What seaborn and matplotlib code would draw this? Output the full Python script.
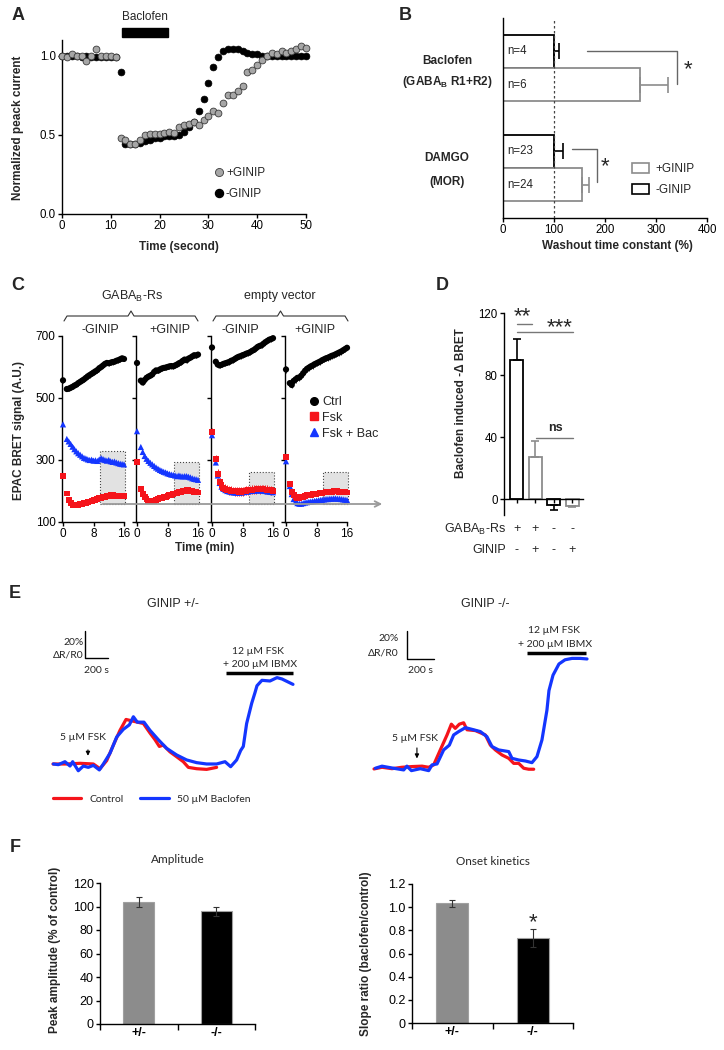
import matplotlib
matplotlib.use("Agg")
import matplotlib.pyplot as plt
import pandas as pd
import seaborn as sns
from matplotlib.lines import Line2D
from matplotlib.patches import Patch, Rectangle

W, H = 724, 1050

# ---------------- A: normalized peak current ----------------
time_a = list(range(51))
current_plus = [1.0, 0.99, 1.01, 1.0, 1.0, 0.97, 1.0, 1.04, 1.0, 1.0, 1.0, 0.99,
                0.48, 0.47, 0.44, 0.44, 0.47, 0.50, 0.505, 0.505, 0.505, 0.51, 0.52, 0.515,
                0.55, 0.565, 0.57, 0.58, 0.565, 0.595, 0.62, 0.65, 0.64, 0.70, 0.75, 0.755,
                0.78, 0.81, 0.90, 0.91, 0.94, 0.975, 1.0, 1.02, 1.01, 1.03, 1.02, 1.03,
                1.04, 1.06, 1.05]
current_minus = [1.0, 1.0, 1.0, 1.0, 0.99, 1.0, 0.99, 0.99, 0.99, 0.99, 0.99, 0.99,
                 0.90, 0.44, 0.44, 0.44, 0.45, 0.46, 0.47, 0.48, 0.48, 0.49, 0.49, 0.49,
                 0.50, 0.52, 0.55, 0.58, 0.65, 0.73, 0.83, 0.93, 0.99, 1.03, 1.04, 1.04,
                 1.04, 1.03, 1.02, 1.01, 1.01, 1.0, 1.0, 1.0, 1.0, 1.0, 1.0, 1.0,
                 1.0, 1.0, 1.0]
baclofen_window = [12.3, 21.7]

# ---------------- B: washout time constant ----------------
b_pos = [1, 2, 4, 5]
b_mean = [100, 268, 100, 155]
b_sem = [10, 56, 18, 13]
b_n = ["n=4", "n=6", "n=23", "n=24"]
b_colors = ["black", "#8c8c8c", "black", "#8c8c8c"]

# ---------------- C: EPAC BRET signal ----------------
c_time = [0, 1, 1.5, 2, 2.5, 3, 3.5, 4, 4.5, 5, 5.5, 6, 6.5, 7, 7.5, 8, 8.5, 9,
          9.5, 10, 10.5, 11, 11.5, 12, 12.5, 13, 13.5, 14, 14.5, 15, 15.5, 16]
c_titles = ["-GINIP", "+GINIP", "-GINIP", "+GINIP"]

ctrl_gaba_minus = [557, 529, 530, 533, 536, 540, 543, 548, 552, 556, 560, 565, 570, 574, 578, 582,
                   586, 590, 596, 600, 605, 610, 613, 612, 614, 616, 617, 620, 622, 625, 628, 626]
fsk_gaba_minus = [249, 192, 170, 160, 156, 154, 154, 155, 157, 158, 160, 162, 164, 166, 168, 170,
                  172, 174, 176, 178, 180, 182, 184, 185, 186, 186, 185, 185, 184, 184, 185, 185]
bac_gaba_minus = [415, 368, 360, 352, 343, 335, 328, 322, 317, 312, 307, 305, 302, 300, 301, 298,
                  299, 297, 302, 306, 303, 300, 298, 300, 296, 294, 295, 292, 290, 288, 287, 286]

ctrl_gaba_plus = [613, 556, 550, 558, 565, 569, 572, 576, 584, 589, 588, 592, 595, 597, 598, 600,
                  602, 603, 602, 605, 608, 612, 615, 620, 624, 622, 627, 630, 634, 638, 637, 640]
fsk_gaba_plus = [294, 206, 190, 180, 173, 168, 166, 166, 168, 170, 173, 176, 178, 180, 182, 184,
                 186, 188, 190, 192, 194, 196, 198, 200, 201, 202, 202, 201, 199, 197, 196, 195]
bac_gaba_plus = [393, 342, 326, 313, 304, 297, 291, 286, 281, 276, 272, 268, 265, 262, 260, 257,
                 255, 253, 252, 250, 248, 250, 248, 247, 248, 248, 246, 244, 241, 239, 238, 236]

ctrl_empty_minus = [663, 617, 608, 605, 607, 610, 612, 614, 616, 620, 622, 626, 630, 633, 635, 638,
                    640, 643, 645, 648, 652, 655, 660, 665, 668, 670, 675, 680, 684, 688, 690, 693]
fsk_empty_minus = [389, 303, 256, 229, 218, 211, 207, 204, 202, 201, 200, 199, 199, 198, 198, 199,
                   200, 201, 202, 203, 204, 205, 205, 206, 205, 206, 206, 205, 204, 203, 202, 200]
bac_empty_minus = [380, 292, 250, 226, 214, 207, 203, 200, 199, 197, 196, 195, 195, 195, 195, 196,
                   197, 198, 199, 200, 201, 201, 202, 202, 202, 202, 201, 200, 199, 198, 197, 196]

ctrl_empty_plus = [592, 548, 542, 555, 560, 565, 566, 572, 580, 588, 594, 598, 602, 605, 609, 612,
                   615, 618, 622, 625, 628, 630, 633, 636, 638, 641, 644, 647, 650, 654, 658, 662]
fsk_empty_plus = [311, 222, 196, 186, 180, 178, 178, 180, 182, 184, 186, 187, 188, 189, 190, 191,
                  192, 193, 194, 195, 196, 197, 197, 198, 199, 200, 199, 198, 198, 197, 196, 195]
bac_empty_plus = [296, 216, 190, 174, 166, 161, 159, 159, 161, 163, 164, 165, 166, 167, 168, 169,
                  170, 171, 172, 173, 174, 174, 175, 175, 176, 176, 175, 175, 174, 173, 172, 171]

ctrl_sem = [8, 8, 8, 10]
fsk_sem = [5, 5, 14, 6]
bac_sem = [4, 4, 6, 5]
c_window = [9.7, 16.3]
c_window_bottom = 158
c_window_top = [328, 292, 262, 262]

# ---------------- D: baclofen induced -dBRET ----------------
d_groups = ["R+ G-", "R+ G+", "R- G-", "R- G+"]
d_mean = [90, 27, -4, -4.5]
d_sem = [13, 10.5, 3, 0.8]
d_colors = ["black", "#8c8c8c", "black", "#8c8c8c"]
d_receptor = ["+", "+", "-", "-"]
d_ginip = ["-", "+", "-", "+"]

# ---------------- E: example traces (s, % dR/R0) ----------------
red_l_t = [0, 119, 235, 351, 409, 467, 525, 583, 635, 684, 733, 786, 843, 887, 925, 959, 1017,
           1075, 1133, 1177, 1249, 1336, 1423]
red_l_v = [0, 0, 0.5, 0, -3.5, 2.5, 14, 25, 33, 32, 31, 30, 23, 18, 13, 14, 9, 5.4, 1.7, -2.5,
           -3.5, -4, -2.5]
blue_l_t = [3, 46, 104, 148, 171, 220, 264, 307, 351, 403, 438, 496, 554, 612, 664, 699, 733, 791,
            843, 916, 988, 1075, 1162, 1249, 1336, 1423, 1496, 1545, 1597, 1632, 1655, 1684, 1728,
            1757, 1774, 1817, 1887, 1948, 1991, 2087]
blue_l_v = [0, -0.5, 1.7, -1.5, 1.7, -5, -1.5, -2.5, -1, -4.4, 0, 8, 20, 25.7, 29, 35, 31, 31, 25,
            18, 11.6, 6.7, 3, 1, 0, 0, 1.7, -2, 3, 10, 13, 30, 45, 53, 58, 62, 61.5, 64, 63, 59]
red_r_t = [0, 59, 133, 207, 281, 356, 405, 442, 491, 541, 573, 602, 632, 664, 689, 751, 825, 862,
           899, 948, 998, 1035, 1072, 1109, 1146, 1183]
red_r_v = [0, 1.2, 0.2, 1.2, 1.7, 2, 1.2, 2.9, 13.6, 24.3, 32, 29, 32, 33, 28, 27.4, 24.3, 17,
           13.6, 10, 7.6, 4, 4, 0.5, -0.2, -0.2]
blue_r_t = [10, 59, 133, 220, 244, 277, 343, 405, 430, 467, 516, 558, 590, 627, 677, 726, 788, 837,
            874, 923, 998, 1022, 1072, 1121, 1170, 1207, 1244, 1281, 1296, 1326, 1370, 1415, 1467,
            1526, 1578]
blue_r_v = [0.5, 2, 0.7, -0.7, 2, -1.2, 0.2, -1.2, 2.9, 3.6, 13.6, 17, 24.3, 26.7, 29.5, 28.3,
            26.7, 23, 16, 13.6, 12.4, 7.6, 6.4, 5.7, 4.5, 8.8, 20.7, 42, 56, 67, 75, 78, 79, 79, 78.6]

# ---------------- F: bar summaries ----------------
f_geno = ["+/-", "-/-"]
f_amp = [104, 96]
f_amp_sem = [4, 4]
f_slope = [1.035, 0.735]
f_slope_sem = [0.03, 0.075]

RED = "#f5141b"
BLUE = "#1436ff"
GRAY = "#8c8c8c"

sns.set_theme(style="ticks")
plt.rcParams["font.family"] = ["Liberation Sans", "DejaVu Sans"]
plt.rcParams.update({
    "axes.linewidth": 1.0,
    "xtick.major.width": 1.0, "ytick.major.width": 1.0,
    "xtick.major.size": 3, "ytick.major.size": 3,
    "xtick.labelsize": 8.3, "ytick.labelsize": 8.3,
    "xtick.major.pad": 1.5, "ytick.major.pad": 1.5,
    "xtick.color": "black", "ytick.color": "black", "axes.edgecolor": "black",
    "mathtext.fontset": "custom", "mathtext.rm": "Liberation Sans",
    "mathtext.bf": "Liberation Sans:bold", "mathtext.default": "regular",
})
CAL = ["Lato", "DejaVu Sans"]

fig = plt.figure(figsize=(W / 100, H / 100), dpi=100)


def px_axes(x0, y0, x1, y1):
    return fig.add_axes([x0 / W, 1 - y1 / H, (x1 - x0) / W, (y1 - y0) / H])


def fxy(x, y):
    return (x / W, 1 - y / H)


# ---- A ----
ax = px_axes(62, 40, 306, 214)
sns.scatterplot(x=time_a, y=current_minus, color="black", edgecolor="black", s=24, linewidth=0.5,
                ax=ax, clip_on=False, zorder=3)
sns.scatterplot(x=time_a, y=current_plus, color="#a6a6a6", edgecolor="#3a3a3a", s=24, linewidth=0.6,
                ax=ax, clip_on=False, zorder=4)
ax.set_xlim(0, 50)
ax.set_ylim(0, 1.1)
ax.set_xticks([0, 10, 20, 30, 40, 50])
ax.set_yticks([0, 0.5, 1.0])
ax.set_yticklabels(["0.0", "0.5", "1.0"])
ax.set_xlabel("")
ax.set_ylabel("")
sns.despine(ax=ax)
ax.add_patch(Rectangle((baclofen_window[0], 1.12), baclofen_window[1] - baclofen_window[0], 0.058,
                       color="black", clip_on=False))
ax.text(sum(baclofen_window) / 2, 1.245, "Baclofen", ha="center", va="center", fontsize=8.5)
a_handles = [Line2D([], [], marker="o", ls="", mfc="#a6a6a6", mec="#3a3a3a", ms=5.8, mew=0.6),
             Line2D([], [], marker="o", ls="", mfc="black", mec="black", ms=5.8)]
ax.legend(a_handles, ["+GINIP", "-GINIP"], loc="upper left", bbox_to_anchor=fxy(213, 167),
          bbox_transform=fig.transFigure, frameon=False, handlelength=1.0, handletextpad=0.1,
          labelspacing=0.75, borderpad=0, borderaxespad=0, fontsize=8.5)

# ---- B ----
axb = px_axes(503, 18, 707, 218)
axb.barh(b_pos, b_mean, height=1.0, color="white", edgecolor=b_colors, linewidth=1.3, zorder=2)
for p, m, s, c in zip(b_pos, b_mean, b_sem, b_colors):
    axb.errorbar(m, p, xerr=[[0], [s]], fmt="none", ecolor=c, elinewidth=1.2, capsize=6, capthick=1.2,
                 zorder=2)
for p, n in zip(b_pos, b_n):
    axb.text(8, p, n, va="center", ha="left", fontsize=8.3)
axb.axvline(100, color="#444444", ls=(0, (2, 2)), lw=0.9, zorder=3)
axb.set_xlim(0, 400)
axb.set_ylim(6, 0)
axb.set_xticks([0, 100, 200, 300, 400])
axb.set_yticks([])
sns.despine(ax=axb)
axb.plot([165, 341, 341], [0.99, 0.99, 1.98], color="#666666", lw=1.0, clip_on=False)
axb.plot([135, 184, 184], [3.93, 3.93, 4.92], color="#666666", lw=1.0, clip_on=False)
axb.text(363, 1.55, "*", ha="center", va="center", fontsize=16)
axb.text(200, 4.45, "*", ha="center", va="center", fontsize=16)
for txt, yy in [("Baclofen", 1.29), (r"(GABA$_\mathbf{B}$ R1+R2)", 1.92), ("DAMGO", 4.2), ("(MOR)", 4.92)]:
    axb.text(-110, yy, txt, ha="center", va="center", fontsize=8.5, fontweight="bold", clip_on=False)
b_handles = [Patch(facecolor="white", edgecolor=GRAY, linewidth=1.2),
             Patch(facecolor="white", edgecolor="black", linewidth=1.2)]
axb.legend(b_handles, ["+GINIP", "-GINIP"], loc="upper left", bbox_to_anchor=fxy(632, 163),
           bbox_transform=fig.transFigure, frameon=False, handlelength=1.45, handleheight=0.95,
           handletextpad=0.55, labelspacing=0.75, borderpad=0, borderaxespad=0, fontsize=8.5)

# ---- C ----
c_ctrl = [ctrl_gaba_minus, ctrl_gaba_plus, ctrl_empty_minus, ctrl_empty_plus]
c_fsk = [fsk_gaba_minus, fsk_gaba_plus, fsk_empty_minus, fsk_empty_plus]
c_bac = [bac_gaba_minus, bac_gaba_plus, bac_empty_minus, bac_empty_plus]
c_lefts = [63, 137, 212, 286]
for k in range(4):
    x0 = c_lefts[k]
    axc = px_axes(x0 - 1.14, 336, x0 + 61, 522)
    axc.add_patch(Rectangle((c_window[0], c_window_bottom), c_window[1] - c_window[0],
                            c_window_top[k] - c_window_bottom, facecolor="#e2e2e2", edgecolor="#444444",
                            ls=":", lw=0.8, zorder=0.5, clip_on=False))
    axc.errorbar(c_time, c_ctrl[k], yerr=ctrl_sem[k], fmt="none", ecolor="#222222", elinewidth=0.6, zorder=2)
    axc.errorbar(c_time, c_bac[k], yerr=bac_sem[k], fmt="none", ecolor=BLUE, elinewidth=0.6, zorder=2)
    axc.errorbar(c_time, c_fsk[k], yerr=fsk_sem[k], fmt="none", ecolor=RED, elinewidth=0.7, zorder=2)
    sns.scatterplot(x=c_time, y=c_bac[k], marker="^", color=BLUE, edgecolor="none", s=20, ax=axc,
                    zorder=3, clip_on=False)
    sns.scatterplot(x=c_time, y=c_fsk[k], marker="s", color=RED, edgecolor="none", s=18, ax=axc,
                    zorder=4, clip_on=False)
    sns.scatterplot(x=c_time, y=c_ctrl[k], marker="o", color="black", edgecolor="none", s=20, ax=axc,
                    zorder=4, clip_on=False)
    axc.set_xlim(-0.3, 16)
    axc.set_ylim(100, 700)
    axc.set_xticks([0, 8, 16])
    axc.set_yticks([100, 300, 500, 700])
    if k > 0:
        axc.set_yticklabels([])
    axc.tick_params(labelsize=8.5)
    axc.set_xlabel("")
    axc.set_ylabel("")
    sns.despine(ax=axc)

# ---- D ----
axd = px_axes(504, 313, 583, 515)
sns.barplot(x=d_groups, y=d_mean, hue=d_groups, palette=d_colors, fill=False, width=0.7,
            linewidth=1.3, legend=False, ax=axd)
for i, (m, s, c) in enumerate(zip(d_mean, d_sem, d_colors)):
    err = [[0], [s]] if m > 0 else [[s], [0]]
    axd.errorbar(i, m, yerr=err, fmt="none", ecolor=c, elinewidth=1.2, capsize=3, capthick=1.2)
axd.set_xlim(-0.7, 3.57)
axd.set_ylim(-10.3, 120)
axd.set_yticks([0, 40, 80, 120])
axd.set_xticks([0, 1, 2, 3])
axd.set_xticklabels([])
axd.spines["bottom"].set_position(("data", 0))
axd.set_xlabel("")
axd.set_ylabel("")
sns.despine(ax=axd)
axd.plot([0, 0.8], [113, 113], color="#777777", lw=1.0, clip_on=False)
axd.plot([0, 3.05], [108, 108], color="#777777", lw=1.0, clip_on=False)
axd.plot([1.05, 3.05], [39.4, 39.4], color="#777777", lw=1.0, clip_on=False)
axd.text(0.3, 111, "**", ha="center", va="bottom", fontsize=16, clip_on=False)
axd.text(2.3, 104, "***", ha="center", va="bottom", fontsize=16, clip_on=False)
axd.text(2.1, 42, "ns", ha="center", va="bottom", fontsize=9, fontweight="bold")
tr = axd.get_xaxis_transform()
axd.text(-0.6, -0.07, r"GABA$_B$-Rs", transform=tr, ha="right", va="center", fontsize=9)
axd.text(-0.6, -0.175, "GINIP", transform=tr, ha="right", va="center", fontsize=9)
for i in range(4):
    axd.text(i, -0.07, d_receptor[i], transform=tr, ha="center", va="center", fontsize=9)
    axd.text(i, -0.175, d_ginip[i], transform=tr, ha="center", va="center", fontsize=9)

# ---- E ----
axe1 = px_axes(40, 615, 310, 815)
sns.lineplot(x=red_l_t, y=red_l_v, color=RED, lw=2.3, sort=False, estimator=None, ax=axe1,
             label="Control")
sns.lineplot(x=blue_l_t, y=blue_l_v, color=BLUE, lw=2.3, sort=False, estimator=None, ax=axe1,
             label="50 µM Baclofen")
axe1.set_xlim(-113, 2235)
axe1.set_ylim(-37.8, 110.4)
axe1.axis("off")
axe1.plot([278, 278, 478], [98.5, 78.5, 78.5], color="black", lw=1.0)
axe1.text(265, 90, "20%", ha="right", va="center", fontsize=7.5, family=CAL)
axe1.text(265, 81, "ΔR/R0", ha="right", va="center", fontsize=7.5, family=CAL)
axe1.text(378, 69.5, "200 s", ha="center", va="center", fontsize=7.5, family=CAL)
axe1.plot([1504, 2087], [67.4, 67.4], color="black", lw=2.5, solid_capstyle="butt")
axe1.text(1783, 83, "12 µM FSK", ha="center", va="center", fontsize=7.5, family=CAL)
axe1.text(1800, 74, "+ 200 µM IBMX", ha="center", va="center", fontsize=7.5, family=CAL)
axe1.annotate("", xy=(304, 4.0), xytext=(304, 12.5),
              arrowprops=dict(arrowstyle="-|>", color="black", lw=0.8, mutation_scale=6))
axe1.text(261, 19.5, "5 µM FSK", ha="center", va="center", fontsize=7.5, family=CAL)
axe1.legend(loc="center left", bbox_to_anchor=fxy(53, 799), bbox_transform=fig.transFigure, ncol=2,
            frameon=False, handlelength=2.7, handletextpad=0.8, columnspacing=1.6, borderpad=0,
            borderaxespad=0, prop={"family": CAL, "size": 7.5})

axe2 = px_axes(365, 615, 720, 815)
sns.lineplot(x=red_r_t, y=red_r_v, color=RED, lw=2.3, sort=False, estimator=None, ax=axe2)
sns.lineplot(x=blue_r_t, y=blue_r_v, color=BLUE, lw=2.3, sort=False, estimator=None, ax=axe2)
axe2.set_xlim(-66.7, 2563)
axe2.set_ylim(-32.9, 110)
axe2.axis("off")
axe2.plot([244, 244, 444], [98.6, 78.6, 78.6], color="black", lw=1.0)
axe2.text(180, 93, "20%", ha="right", va="center", fontsize=7.5, family=CAL)
axe2.text(180, 83, "ΔR/R0", ha="right", va="center", fontsize=7.5, family=CAL)
axe2.text(341, 70, "200 s", ha="center", va="center", fontsize=7.5, family=CAL)
axe2.plot([1133, 1570], [82.9, 82.9], color="black", lw=2.5, solid_capstyle="butt")
axe2.text(1333, 98.6, "12 µM FSK", ha="center", va="center", fontsize=7.5, family=CAL)
axe2.text(1340, 89, "+ 200 µM IBMX", ha="center", va="center", fontsize=7.5, family=CAL)
axe2.annotate("", xy=(318, 5.5), xytext=(318, 17),
              arrowprops=dict(arrowstyle="-|>", color="black", lw=0.8, mutation_scale=6))
axe2.text(304, 22, "5 µM FSK", ha="center", va="center", fontsize=7.5, family=CAL)


# ---- F ----
def f_panel(box, vals, sems, ylim, yticks, yticklabels, title, star=None):
    axf = px_axes(*box)
    sns.barplot(x=f_geno, y=vals, hue=f_geno, palette=[GRAY, "black"], width=0.4, legend=False,
                edgecolor=["#a0a0a0", "black"], linewidth=0.8, ax=axf)
    axf.errorbar([0, 1], vals, yerr=sems, fmt="none", ecolor="#333333", elinewidth=0.8, capsize=2.5,
                 capthick=0.8)
    axf.set_xlim(-0.5, 1.5)
    axf.set_ylim(*ylim)
    axf.set_yticks(yticks)
    axf.set_yticklabels(yticklabels)
    axf.set_xticks([0, 1])
    axf.set_xticklabels(f_geno, fontweight="bold", fontsize=9)
    axf.set_xticks([-0.5, 0.5, 1.5], minor=True)
    axf.tick_params(axis="x", which="major", length=0, pad=2)
    axf.tick_params(axis="x", which="minor", length=4, width=1.0)
    axf.tick_params(axis="y", labelsize=9)
    axf.set_xlabel("")
    axf.set_ylabel("")
    sns.despine(ax=axf)
    axf.text(0.5, 1.165, title, transform=axf.transAxes, ha="center", va="center", fontsize=8.5,
             family=CAL)
    if star is not None:
        axf.text(1, star, "*", ha="center", va="center", fontsize=16)
    return axf


f_panel((100, 883, 255, 1024), f_amp, f_amp_sem, (0, 120), [0, 20, 40, 60, 80, 100, 120],
        ["0", "20", "40", "60", "80", "100", "120"], "Amplitude")
f_panel((412, 884, 573, 1023), f_slope, f_slope_sem, (0, 1.2), [0, 0.2, 0.4, 0.6, 0.8, 1.0, 1.2],
        ["0", "0.2", "0.4", "0.6", "0.8", "1.0", "1.2"], "Onset kinetics", star=0.87)

# ---- overlay: panel letters, shared labels, braces ----
ov = px_axes(0, 0, W, H)
ov.set_xlim(0, W)
ov.set_ylim(H, 0)
ov.axis("off")

for letter, (lx, ly) in {"A": (18, 15), "B": (405, 16), "C": (18, 286), "D": (442, 286),
                         "E": (15, 594), "F": (15, 847)}.items():
    ov.text(lx, ly, letter, ha="center", va="center", fontsize=13, fontweight="bold")

lab = dict(ha="center", va="center", fontsize=8.5, fontweight="bold")
ov.text(18, 128, "Normalized peack current", rotation=90, **lab)
ov.text(179, 247, "Time (second)", **lab)
ov.text(617, 246, "Washout time constant (%)", **lab)
ov.text(19, 430, "EPAC BRET signal (A.U.)", rotation=90, **lab)
ov.text(205, 548, "Time (min)", **lab)
ov.text(461, 403, "Baclofen induced -Δ BRET", rotation=90, **lab)
ov.text(55, 950, "Peak amplitude (% of control)", rotation=90, **lab)
ov.text(366, 954, "Slope ratio (baclofen/control)", rotation=90, **lab)


def brace(x0, x1, y):
    xm = (x0 + x1) / 2
    ov.plot([x0, x0 + 3, xm - 3, xm, xm + 3, x1 - 3, x1], [y + 5, y, y, y - 5, y, y, y + 5],
            color="#333333", lw=0.8)


brace(64, 198, 316)
brace(213, 348, 316)
ov.text(132, 296, r"GABA$_B$-Rs", ha="center", va="center", fontsize=9)
ov.text(280, 296, "empty vector", ha="center", va="center", fontsize=9)
for cx, t in zip([100, 170, 240, 315], c_titles):
    ov.text(cx, 330, t, ha="center", va="center", fontsize=9)
ov.annotate("", xy=(385, 504), xytext=(100, 504),
            arrowprops=dict(arrowstyle="->", color="#9a9a9a", lw=1.3, mutation_scale=10))
c_handles = [Line2D([], [], marker="o", ls="", color="black", ms=5.5),
             Line2D([], [], marker="s", ls="", color=RED, ms=5.5),
             Line2D([], [], marker="^", ls="", color=BLUE, ms=5.5)]
ov.legend(c_handles, ["Ctrl", "Fsk", "Fsk + Bac"], loc="upper left", bbox_to_anchor=fxy(309, 396),
          bbox_transform=fig.transFigure, frameon=False, handlelength=0.8, handletextpad=0.25,
          labelspacing=0.3, borderpad=0, borderaxespad=0, fontsize=9)
ov.text(173, 604, "GINIP +/-", ha="center", va="center", fontsize=9)
ov.text(485, 604, "GINIP -/-", ha="center", va="center", fontsize=9)

fig.savefig("out.png", dpi=100)
